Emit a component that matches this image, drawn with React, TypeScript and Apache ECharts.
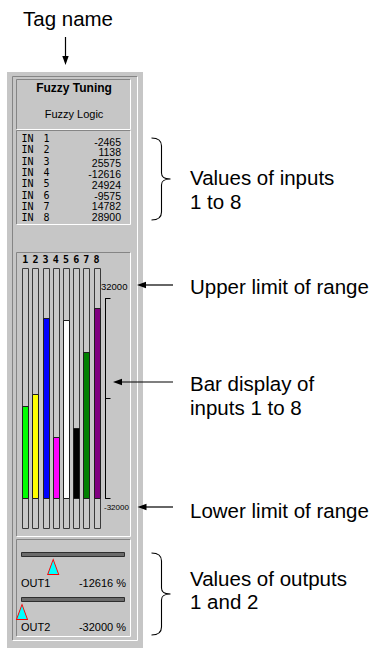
import React, { useEffect, useRef } from 'react';
import * as echarts from 'echarts';

// ---------------- data ----------------
const TAG_NAME = 'Fuzzy Tuning';
const BLOCK_TYPE = 'Fuzzy Logic';
const INPUT_PREFIX = 'IN';
const INPUT_NUMBERS = ['1', '2', '3', '4', '5', '6', '7', '8'];
const INPUT_VALUES = [-2465, 1138, 25575, -12616, 24924, -9575, 14782, 28900];
const CHANNELS = ['1', '2', '3', '4', '5', '6', '7', '8'];
const BAR_COLORS = ['#00ff00', '#ffff00', '#0000ff', '#ff00ff', '#ffffff', '#000000', '#008000', '#800080'];
const RANGE_MIN = -32000;
const RANGE_MAX = 32000;
const RANGE_TICK = 32000;
const RANGE_LABELS = ['32000', '-32000'];
const OUTPUT_NAMES = ['OUT1', 'OUT2'];
const OUTPUT_VALUES = [-12616, -32000];
const OUTPUT_UNIT = '%';
const TAG_CALLOUT = 'Tag name';
const CALLOUT_INPUTS = ['Values of inputs', '1 to 8'];
const CALLOUT_UPPER = ['Upper limit of range'];
const CALLOUT_BARS = ['Bar display of', 'inputs 1 to 8'];
const CALLOUT_LOWER = ['Lower limit of range'];
const CALLOUT_OUTPUTS = ['Values of outputs', '1 and 2'];

// ---------------- styles ----------------
const PANEL = '#c6c6c6';
const DARK = '#858585';
const LIGHT = '#ffffff';
const SANS = '"Liberation Sans", Arial, Helvetica, sans-serif';
const MONO = '"DejaVu Sans Mono", monospace';
const CALLOUT_SIZE = 20.5;

const BRACE_D =
  'M0,0 C6,0 10,2 10,8 L10,35 C10,39 12,41 19,41 C12,41 10,43 10,47 L10,74 C10,80 6,82 0,82';
echarts.graphic.registerShape('brace', echarts.graphic.extendPath(BRACE_D, {}) as any);

function bevel(x: number, y: number, w: number, h: number, z = 1): any[] {
  const ln = (x1: number, y1: number, x2: number, y2: number, c: string) => ({
    type: 'line',
    z,
    silent: true,
    shape: { x1, y1, x2, y2 },
    style: { stroke: c, lineWidth: 1 },
  });
  return [
    ln(x, y, x + w, y, DARK),
    ln(x, y, x, y + h, DARK),
    ln(x + w, y, x + w, y + h, LIGHT),
    ln(x, y + h, x + w, y + h, LIGHT),
  ];
}

function txt(
  text: string,
  x: number,
  y: number,
  size: number,
  family: string,
  align = 'left',
  weight = 'normal',
  color = '#000',
  z = 3,
): any {
  return {
    type: 'text',
    z,
    silent: true,
    x,
    y,
    style: {
      text,
      fontSize: size,
      fontFamily: family,
      fontWeight: weight,
      fill: color,
      align,
      verticalAlign: 'middle',
      textAlign: align,
      textVerticalAlign: 'middle',
    },
  };
}

function hArrow(tipX: number, y: number, tailX: number): any[] {
  return [
    {
      type: 'line',
      z: 3,
      silent: true,
      shape: { x1: tipX + 6, y1: y, x2: tailX, y2: y },
      style: { stroke: '#000', lineWidth: 1.2 },
    },
    {
      type: 'polygon',
      z: 3,
      silent: true,
      shape: { points: [[tipX, y], [tipX + 9, y - 3.2], [tipX + 9, y + 3.2]] },
      style: { fill: '#000' },
    },
  ];
}

function buildOption(): any {
  const pad = (RANGE_MAX - RANGE_MIN) * 0.15;
  const graphics: any[] = [];

  // panel
  graphics.push({
    type: 'rect',
    z: 0,
    silent: true,
    shape: { x: 7, y: 72, width: 136, height: 576 },
    style: { fill: PANEL },
  });
  graphics.push(...bevel(12.5, 76.5, 125, 564));
  graphics.push(...bevel(16.5, 79.5, 114, 50));
  graphics.push(...bevel(16.5, 130.5, 114, 94));
  graphics.push(...bevel(16.5, 252.5, 114, 284));
  graphics.push(...bevel(16.5, 539.5, 114, 97));

  // title
  graphics.push(txt(TAG_NAME, 74, 87.5, 12, SANS, 'center', 'bold'));
  graphics.push(txt(BLOCK_TYPE, 74, 113.5, 11, SANS, 'center'));

  // inputs list
  INPUT_NUMBERS.forEach((n, i) => {
    const y = 138.5 + 11.3 * i;
    graphics.push(txt(INPUT_PREFIX, 21.5, y, 10, MONO, 'left'));
    graphics.push(txt(n, 43.5, y, 10, MONO, 'left'));
  });
  INPUT_VALUES.forEach((v, i) => {
    graphics.push(txt(String(v), 121, 141.5 + 10.8 * i, 10.5, SANS, 'right'));
  });

  // range labels
  graphics.push(txt(RANGE_LABELS[0], 101, 286, 9.5, SANS, 'left'));
  graphics.push(txt(RANGE_LABELS[1], 104, 507, 8, SANS, 'left'));

  // output tracks + labels
  [552.5, 597.5].forEach((ty, k) => {
    graphics.push({
      type: 'rect',
      z: 2,
      silent: true,
      shape: { x: 21.5, y: ty, width: 103, height: 4 },
      style: { fill: '#6b6b6b', stroke: '#2e2e2e', lineWidth: 1 },
    });
    graphics.push(txt(OUTPUT_NAMES[k], 21, k === 0 ? 583 : 627, 11, SANS, 'left'));
    graphics.push(
      txt(`${OUTPUT_VALUES[k]} ${OUTPUT_UNIT}`, 126, k === 0 ? 583 : 627, 11, SANS, 'right'),
    );
  });

  // callouts
  graphics.push(txt(TAG_CALLOUT, 68, 18, CALLOUT_SIZE, SANS, 'center'));
  graphics.push({
    type: 'line',
    z: 3,
    silent: true,
    shape: { x1: 65.5, y1: 37, x2: 65.5, y2: 58 },
    style: { stroke: '#000', lineWidth: 1.2 },
  });
  graphics.push({
    type: 'polygon',
    z: 3,
    silent: true,
    shape: { points: [[65.5, 65], [62.3, 56], [68.7, 56]] },
    style: { fill: '#000' },
  });

  graphics.push({
    type: 'brace',
    z: 3,
    silent: true,
    x: 151.5,
    y: 138,
    style: { fill: 'none', stroke: '#000', lineWidth: 1.1 },
  });
  graphics.push({
    type: 'brace',
    z: 3,
    silent: true,
    x: 151.5,
    y: 553,
    style: { fill: 'none', stroke: '#000', lineWidth: 1.1 },
  });

  CALLOUT_INPUTS.forEach((t, i) => graphics.push(txt(t, 190, 177 + 24 * i, CALLOUT_SIZE, SANS)));
  CALLOUT_UPPER.forEach((t) => graphics.push(txt(t, 190, 286, CALLOUT_SIZE, SANS)));
  CALLOUT_BARS.forEach((t, i) => graphics.push(txt(t, 190, 383 + 24 * i, CALLOUT_SIZE, SANS)));
  CALLOUT_LOWER.forEach((t) => graphics.push(txt(t, 190, 510, CALLOUT_SIZE, SANS)));
  CALLOUT_OUTPUTS.forEach((t, i) => graphics.push(txt(t, 190, 578 + 23.5 * i, CALLOUT_SIZE, SANS)));

  graphics.push(...hArrow(137, 285, 173));
  graphics.push(...hArrow(113, 382, 173));
  graphics.push(...hArrow(137.5, 507, 173));

  const renderTube = (params: any, api: any) => {
    const i = api.value(0);
    const v = api.value(1);
    const top = api.coord([i, RANGE_MAX + pad]);
    const bottom = api.coord([i, RANGE_MIN - pad]);
    const base = api.coord([i, RANGE_MIN]);
    const val = api.coord([i, v]);
    const w = 6;
    const x = Math.round(top[0] - w / 2) + 0.5;
    const yTop = Math.round(top[1]) + 0.5;
    const yBot = Math.round(bottom[1]) + 0.5;
    const yBase = Math.round(base[1]) + 0.5;
    const yVal = Math.round(val[1]) + 0.5;
    return {
      type: 'group',
      children: [
        {
          type: 'rect',
          shape: { x, y: yTop, width: w, height: yBot - yTop },
          style: { fill: '#c9c9c9', stroke: '#3a3a3a', lineWidth: 1 },
        },
        {
          type: 'rect',
          shape: { x, y: yVal, width: w, height: yBase - yVal },
          style: { fill: BAR_COLORS[i], stroke: '#1e1e1e', lineWidth: 1 },
        },
      ],
    };
  };

  const marker = (k: number) => ({
    type: 'scatter',
    xAxisIndex: 2 + k,
    yAxisIndex: 2 + k,
    data: [[OUTPUT_VALUES[k], 0.5]],
    symbol: 'triangle',
    symbolSize: [11, 15],
    itemStyle: { color: '#00ffff', borderColor: '#ff0000', borderWidth: 1, opacity: 1 },
    z: 6,
    silent: true,
  });

  return {
    animation: false,
    backgroundColor: '#ffffff',
    grid: [
      { left: 20.2, top: 268, width: 81.4, height: 260 },
      { left: 105.5, top: 298.5, width: 10, height: 200 },
      { left: 22, top: 556, width: 103, height: 22 },
      { left: 22, top: 601, width: 103, height: 22 },
    ],
    xAxis: [
      {
        gridIndex: 0,
        type: 'category',
        data: CHANNELS,
        position: 'top',
        axisLine: { show: false },
        axisTick: { show: false },
        splitLine: { show: false },
        axisLabel: {
          interval: 0,
          margin: 4,
          fontFamily: MONO,
          fontWeight: 'bold',
          fontSize: 10,
          color: '#000',
        },
      },
      { gridIndex: 1, type: 'value', show: false },
      { gridIndex: 2, type: 'value', min: RANGE_MIN, max: RANGE_MAX, show: false },
      { gridIndex: 3, type: 'value', min: RANGE_MIN, max: RANGE_MAX, show: false },
    ],
    yAxis: [
      {
        gridIndex: 0,
        type: 'value',
        min: RANGE_MIN - pad,
        max: RANGE_MAX + pad,
        show: false,
      },
      {
        gridIndex: 1,
        type: 'value',
        position: 'left',
        min: RANGE_MIN,
        max: RANGE_MAX,
        interval: RANGE_TICK,
        axisLine: { show: true, lineStyle: { color: '#000', width: 1 } },
        axisTick: { show: true, inside: true, length: 5, lineStyle: { color: '#000', width: 1 } },
        axisLabel: { show: false },
        splitLine: { show: false },
      },
      { gridIndex: 2, type: 'value', min: 0, max: 1, show: false },
      { gridIndex: 3, type: 'value', min: 0, max: 1, show: false },
    ],
    graphic: { elements: graphics },
    series: [
      {
        type: 'custom',
        xAxisIndex: 0,
        yAxisIndex: 0,
        data: INPUT_VALUES.map((v, i) => [i, v]),
        renderItem: renderTube,
        z: 5,
        silent: true,
      },
      marker(0),
      marker(1),
    ],
  };
}

export default function App() {
  const ref = useRef<HTMLDivElement>(null);
  useEffect(() => {
    if (!ref.current) return;
    const chart = echarts.init(ref.current, null, { renderer: 'svg' });
    chart.setOption(buildOption());
    return () => chart.dispose();
  }, []);
  return (
    <div
      ref={ref}
      style={{ position: 'absolute', left: 0, top: 0, width: 376, height: 648 }}
    />
  );
}
